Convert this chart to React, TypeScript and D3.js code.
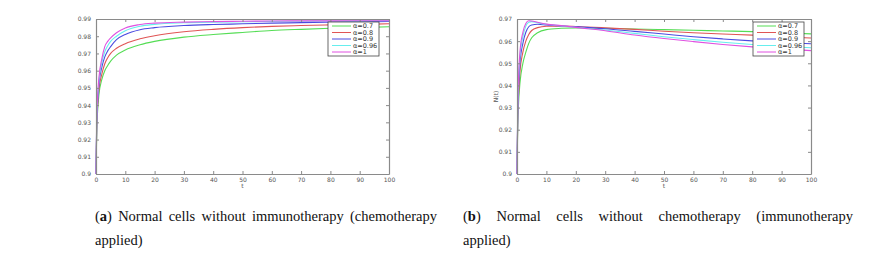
import React, { useEffect, useRef } from "react";
import * as d3 from "d3";

// time samples (same for every series)
const T = [0, 0.25, 0.5, 1, 2, 3, 4, 5, 7, 10, 15, 20, 30, 40, 50, 60, 70, 80, 90, 100];

const alphas = ["α=0.7", "α=0.8", "α=0.9", "α=0.96", "α=1"];
const colors = ["#55dd55", "#e05555", "#4b4be0", "#66eeee", "#e050e0"];

// (a) chemotherapy only
const chemo07 = [0.9, 0.925, 0.935, 0.946, 0.955, 0.96, 0.963, 0.9655, 0.969, 0.972, 0.975, 0.977, 0.9795, 0.981, 0.9822, 0.9833, 0.984, 0.9846, 0.985, 0.9855];
const chemo08 = [0.9, 0.928, 0.938, 0.949, 0.958, 0.964, 0.9675, 0.97, 0.973, 0.9757, 0.9785, 0.9803, 0.9826, 0.984, 0.985, 0.9857, 0.9862, 0.9866, 0.9869, 0.9872];
const chemo09 = [0.9, 0.93, 0.94, 0.952, 0.962, 0.968, 0.9715, 0.974, 0.978, 0.981, 0.9838, 0.985, 0.9862, 0.9868, 0.9872, 0.9876, 0.9879, 0.9882, 0.9884, 0.9886];
const chemo096 = [0.9, 0.932, 0.942, 0.954, 0.965, 0.971, 0.9745, 0.977, 0.98, 0.9832, 0.9858, 0.9869, 0.9878, 0.9882, 0.9884, 0.9886, 0.9887, 0.9888, 0.9889, 0.989];
const chemo1 = [0.9, 0.933, 0.944, 0.956, 0.967, 0.974, 0.977, 0.979, 0.982, 0.9848, 0.9868, 0.9876, 0.9882, 0.9885, 0.9887, 0.9888, 0.9889, 0.9889, 0.989, 0.989];

// (b) immunotherapy only
const immuno07 = [0.9, 0.922, 0.931, 0.941, 0.95, 0.955, 0.959, 0.9615, 0.9638, 0.9652, 0.9658, 0.966, 0.9658, 0.9655, 0.9652, 0.9649, 0.9646, 0.9643, 0.9638, 0.9633];
const immuno08 = [0.9, 0.925, 0.935, 0.946, 0.955, 0.96, 0.963, 0.9648, 0.9661, 0.9667, 0.9668, 0.9666, 0.966, 0.9653, 0.9645, 0.9638, 0.9632, 0.9627, 0.962, 0.9614];
const immuno09 = [0.9, 0.927, 0.938, 0.95, 0.959, 0.964, 0.9665, 0.9673, 0.9676, 0.9673, 0.9669, 0.9665, 0.9656, 0.9644, 0.9632, 0.962, 0.961, 0.9601, 0.9594, 0.9588];
const immuno096 = [0.9, 0.929, 0.941, 0.953, 0.962, 0.9668, 0.9685, 0.9688, 0.9683, 0.9676, 0.9669, 0.9662, 0.965, 0.9635, 0.962, 0.9607, 0.9595, 0.9585, 0.9577, 0.957];
const immuno1 = [0.9, 0.93, 0.943, 0.955, 0.964, 0.968, 0.9692, 0.9691, 0.9685, 0.9677, 0.967, 0.9662, 0.9647, 0.9628, 0.9612, 0.9598, 0.9585, 0.9574, 0.9565, 0.9557];

const xTicks = [0, 10, 20, 30, 40, 50, 60, 70, 80, 90, 100];
const yTicksA = [0.9, 0.91, 0.92, 0.93, 0.94, 0.95, 0.96, 0.97, 0.98, 0.99];
const yTicksB = [0.9, 0.91, 0.92, 0.93, 0.94, 0.95, 0.96, 0.97];

const captionA = ["(a)", "Normal", "cells", "without", "immunotherapy", "(chemotherapy"];
const captionB = ["(b)", "Normal", "cells", "without", "chemotherapy", "(immunotherapy"];

const AXIS = "#8a8a8a";
const LABEL = "#555";

const Panel = ({ x0, x1, y0, y1, yMax, yTicks, series, ylabel, legendGap }) => {
  const ref = useRef(null);
  useEffect(() => {
    const g = d3.select(ref.current);
    g.selectAll("*").remove();
    const x = d3.scaleLinear().domain([0, 100]).range([x0, x1]);
    const y = d3.scaleLinear().domain([0.9, yMax]).range([y1, y0]);
    const fmt = (d) => String(+(+d).toFixed(2));

    const style = (sel, labels) => {
      sel.select(".domain").attr("stroke", AXIS).attr("stroke-width", 1.2);
      sel.selectAll(".tick line").attr("stroke", AXIS);
      sel.selectAll(".tick text")
        .attr("fill", LABEL)
        .attr("font-family", "DejaVu Sans, sans-serif")
        .attr("font-size", 6)
        .style("display", labels ? null : "none");
    };

    // curves
    const line = d3.line().x((d, i) => x(T[i])).y((d) => y(d)).curve(d3.curveMonotoneX);
    series.forEach((s, i) => {
      g.append("path").attr("d", line(s)).attr("fill", "none")
        .attr("stroke", colors[i]).attr("stroke-width", 1.1);
    });

    g.append("g").attr("transform", `translate(0,${y1})`)
      .call(d3.axisBottom(x).tickValues(xTicks).tickSizeInner(-3).tickSizeOuter(0).tickPadding(4))
      .call((s) => style(s, true));
    g.append("g").attr("transform", `translate(0,${y0})`)
      .call(d3.axisTop(x).tickValues(xTicks).tickSizeInner(-3).tickSizeOuter(0))
      .call((s) => style(s, false));
    g.append("g").attr("transform", `translate(${x0},0)`)
      .call(d3.axisLeft(y).tickValues(yTicks).tickFormat(fmt).tickSizeInner(-3).tickSizeOuter(0).tickPadding(5))
      .call((s) => style(s, true));
    g.append("g").attr("transform", `translate(${x1},0)`)
      .call(d3.axisRight(y).tickValues(yTicks).tickSizeInner(-3).tickSizeOuter(0))
      .call((s) => style(s, false));

    g.append("text").attr("x", (x0 + x1) / 2).attr("y", y1 + 14)
      .attr("text-anchor", "middle").attr("font-family", "DejaVu Sans, sans-serif")
      .attr("font-size", 6).attr("fill", LABEL).text("t");
    if (ylabel) {
      g.append("text").attr("transform", `translate(${x0 - 19},${(y0 + y1) / 2}) rotate(-90)`)
        .attr("text-anchor", "middle").attr("font-family", "DejaVu Sans, sans-serif")
        .attr("font-size", 6).attr("fill", LABEL).text(ylabel);
    }

    // legend
    const lw = 51, lh = 34;
    const lx = x1 - legendGap - lw, ly = y0 + 3;
    const lg = g.append("g").attr("transform", `translate(${lx},${ly})`);
    lg.append("rect").attr("width", lw).attr("height", lh).attr("fill", "white")
      .attr("stroke", "#444").attr("stroke-width", 0.8);
    alphas.forEach((a, i) => {
      const yy = 4 + i * 6.5;
      lg.append("line").attr("x1", 4).attr("x2", 23).attr("y1", yy).attr("y2", yy)
        .attr("stroke", colors[i]).attr("stroke-width", 1);
      lg.append("text").attr("x", 25).attr("y", yy + 2).attr("font-size", 6.5)
        .attr("font-family", "DejaVu Sans, sans-serif").attr("fill", "#333").text(a);
    });
  }, []);
  return <g ref={ref} />;
};

const Caption = ({ words, x0, x1, y }) => {
  const ref = useRef(null);
  useEffect(() => {
    const g = d3.select(ref.current);
    g.selectAll("*").remove();
    const FS = 14.5;
    const texts = words.map((w, i) => {
      const t = g.append("text").attr("y", y).attr("font-family", "Liberation Serif, serif")
        .attr("font-size", FS).attr("fill", "#111");
      if (i === 0) {
        t.append("tspan").text("(");
        t.append("tspan").attr("font-weight", "bold").text(w.slice(1, -1));
        t.append("tspan").text(")");
      } else t.text(w);
      return t;
    });
    const widths = texts.map((t) => t.node().getComputedTextLength());
    const gap = (x1 - x0 - d3.sum(widths)) / (words.length - 1);
    let cx = x0;
    texts.forEach((t, i) => {
      t.attr("x", cx);
      cx += widths[i] + gap;
    });
    g.append("text").attr("x", x0).attr("y", y + 24).attr("font-family", "Liberation Serif, serif")
      .attr("font-size", FS).attr("fill", "#111").text("applied)");
  }, []);
  return <g ref={ref} />;
};

export default function App() {
  return (
    <div style={{ position: "fixed", left: 0, top: 0 }}>
      <svg width={870} height={257} style={{ display: "block", background: "white" }}>
        <Panel x0={96} x1={389} y0={19} y1={174} yMax={0.99} yTicks={yTicksA}
          series={[chemo07, chemo08, chemo09, chemo096, chemo1]} ylabel={null} legendGap={10} />
        <Panel x0={517} x1={811} y0={19} y1={174} yMax={0.97} yTicks={yTicksB}
          series={[immuno07, immuno08, immuno09, immuno096, immuno1]} ylabel="N(t)" legendGap={7} />
        <Caption words={captionA} x0={95} x1={437} y={221} />
        <Caption words={captionB} x0={463} x1={853} y={221} />
      </svg>
    </div>
  );
}
